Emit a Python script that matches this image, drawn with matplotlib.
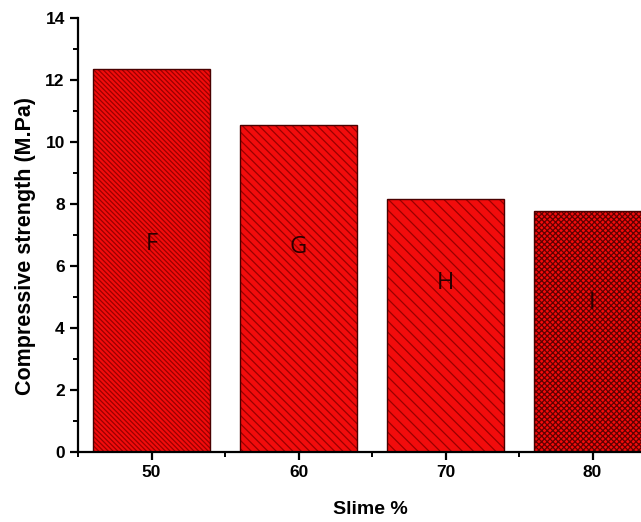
import matplotlib.pyplot as plt
from matplotlib.ticker import MultipleLocator

# data
slime = [50, 60, 70, 80]
strength = [12.35, 10.55, 8.16, 7.77]
mix_labels = ["F", "G", "H", "I"]
label_y = [6.7, 6.6, 5.45, 4.8]
hatches = ["\\" * 7, "\\" * 4, "\\" * 3, "xxxxxx"]
hatch_colors = ["#9a0000", "#9a0000", "#9a0000", "#600000"]

plt.rcParams['font.family'] = ['Liberation Sans', 'DejaVu Sans']
plt.rcParams['hatch.linewidth'] = 0.9

fig = plt.figure(figsize=(6.41, 5.22), dpi=100)
ax = fig.add_axes([78 / 641, 1 - 452 / 522, 588 / 641, 434 / 522])

for x, h, lab, ly, hp, hc in zip(slime, strength, mix_labels, label_y,
                                 hatches, hatch_colors):
    # hatched fill, then a dark outline on top
    ax.bar(x, h, width=8, color='#f20c0c', edgecolor=hc, hatch=hp,
           linewidth=0)
    ax.bar(x, h, width=8, fill=False, edgecolor='#4a0000', linewidth=1.0)
    ax.text(x, ly, lab, ha='center', va='center', fontsize=17,
            color='#2a0000', family=['Open Sans', 'DejaVu Sans'])

ax.set_xlim(45, 85)
ax.set_ylim(0, 14)
ax.set_xticks(slime)
ax.xaxis.set_minor_locator(MultipleLocator(5))
ax.yaxis.set_major_locator(MultipleLocator(2))
ax.yaxis.set_minor_locator(MultipleLocator(1))

for s in ['top', 'right']:
    ax.spines[s].set_visible(False)
for s in ['left', 'bottom']:
    ax.spines[s].set_linewidth(1.6)

ax.tick_params(which='major', direction='out', length=6, width=1.6,
               labelsize=12.5)
ax.tick_params(which='minor', direction='out', length=3.5, width=1.4)
for t in ax.get_xticklabels() + ax.get_yticklabels():
    t.set_fontweight('bold')

ax.set_xlabel('Slime %', fontsize=14, fontweight='bold')
ax.set_ylabel('Compressive strength (M.Pa)', fontsize=15.5, fontweight='bold')
ax.xaxis.set_label_coords((370 - 78) / 588, -0.112)
ax.yaxis.set_label_coords(-0.072, 0.475)

fig.savefig('out.png', dpi=100)
